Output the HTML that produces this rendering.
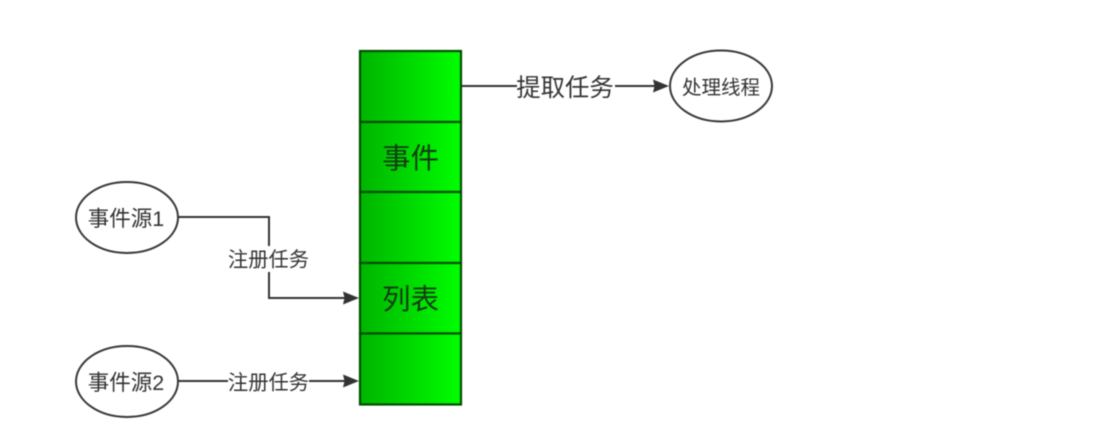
<!DOCTYPE html>
<html>
<head>
<meta charset="utf-8">
<style>
html,body{margin:0;padding:0;background:#fff;width:1101px;height:439px;overflow:hidden}
svg{display:block;filter:blur(0.4px)}
text{font-family:"Liberation Sans","Noto Sans CJK SC",sans-serif;fill:#333;text-anchor:middle}
</style>
</head>
<body>
<svg width="1101" height="439" viewBox="0 0 1101 439" xmlns="http://www.w3.org/2000/svg">
<defs>
<linearGradient id="g" x1="0" x2="1" y1="0" y2="0">
<stop offset="0" stop-color="#00b400"/>
<stop offset="1" stop-color="#00ff00"/>
</linearGradient>
</defs>
<g stroke="#004f00" stroke-width="2.200" fill="url(#g)">
<rect x="360" y="51" width="101" height="71"/>
<rect x="360" y="122" width="101" height="70"/>
<rect x="360" y="192" width="101" height="71"/>
<rect x="360" y="263" width="101" height="70.500"/>
<rect x="360" y="333.500" width="101" height="71"/>
</g>
<text x="410.500" y="168" font-size="28.500" style="fill:#143c14">事件</text>
<text x="410.500" y="309" font-size="28.500" style="fill:#143c14">列表</text>
<g fill="#fff" stroke="#383838" stroke-width="2">
<ellipse cx="127" cy="217.500" rx="51" ry="35.500"/>
<ellipse cx="127" cy="381.500" rx="51" ry="35.500"/>
<ellipse cx="721" cy="86" rx="51" ry="35.500"/>
</g>
<text x="126" y="226" font-size="21.500">事件源1</text>
<text x="126" y="390" font-size="21.500">事件源2</text>
<text x="721" y="94" font-size="19.500">处理线程</text>
<g fill="none" stroke="#333" stroke-width="2">
<path d="M178 217H269V298H345"/>
<path d="M178 381H345"/>
<path d="M462 86H655"/>
</g>
<g fill="#333">
<path d="M343 291.500L359 298L343 304.500L344.500 298Z"/>
<path d="M343 374.500L359 381L343 387.500L344.500 381Z"/>
<path d="M653 79.500L669 86L653 92.500L654.500 86Z"/>
</g>
<rect x="228" y="246" width="81" height="26" fill="#fff"/>
<rect x="228" y="370" width="81" height="24" fill="#fff"/>
<rect x="517" y="72" width="98" height="29" fill="#fff"/>
<text x="268.500" y="266.500" font-size="20.300">注册任务</text>
<text x="268.500" y="389.500" font-size="20.300">注册任务</text>
<text x="565" y="96" font-size="24.400">提取任务</text>
</svg>
</body>
</html>
